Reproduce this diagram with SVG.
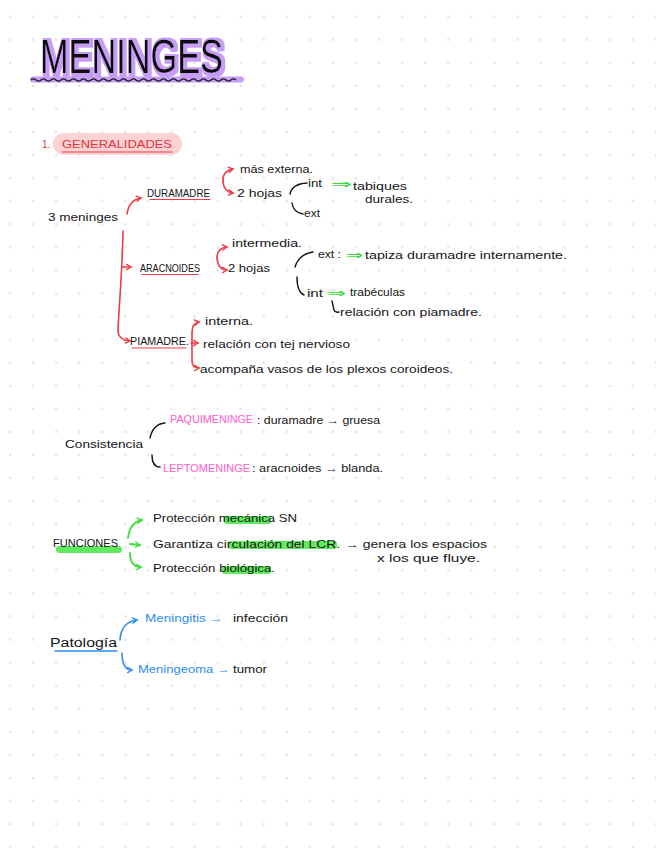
<svg xmlns="http://www.w3.org/2000/svg" width="656" height="848" viewBox="0 0 656 848">
<defs>
<pattern id="dots" patternUnits="userSpaceOnUse" x="-1.5" y="5.2" width="23.07" height="23.07">
<circle cx="11.5" cy="11.5" r="1.3" fill="#e3e3e3"/>
</pattern>
<filter id="glow" x="-10%" y="-20%" width="120%" height="140%">
<feMorphology in="SourceAlpha" operator="dilate" radius="1.8" result="d"/>
<feOffset in="d" dx="2" dy="1" result="o"/>
<feFlood flood-color="#c79df7"/>
<feComposite in2="o" operator="in" result="p"/>
<feMerge><feMergeNode in="p"/><feMergeNode in="SourceGraphic"/></feMerge>
</filter>
<marker id="ar" viewBox="0 0 8 8" refX="6" refY="4" markerWidth="7" markerHeight="7" markerUnits="userSpaceOnUse" orient="auto"><path d="M1,1 L6,4 L1,7" fill="none" stroke="#ee3b44" stroke-width="1.6" stroke-linecap="round"/></marker>
<marker id="ag" viewBox="0 0 8 8" refX="6" refY="4" markerWidth="7" markerHeight="7" markerUnits="userSpaceOnUse" orient="auto"><path d="M1,1 L6,4 L1,7" fill="none" stroke="#3be03b" stroke-width="1.6" stroke-linecap="round"/></marker>
<marker id="ab" viewBox="0 0 8 8" refX="6" refY="4" markerWidth="7" markerHeight="7" markerUnits="userSpaceOnUse" orient="auto"><path d="M1,1 L6,4 L1,7" fill="none" stroke="#2d8cf0" stroke-width="1.6" stroke-linecap="round"/></marker>
</defs>
<style>
text{font-family:"Liberation Sans","DejaVu Sans",sans-serif;font-size:10.5px;fill:#151515}
.sc{font-size:10.5px}
.red{fill:#e8323c}
.pink{fill:#ff5ccb}
.blue{fill:#2d8cf0}
.grn{fill:#35e035;font-weight:bold}
.cr{fill:none;stroke:#ee3b44;stroke-width:1.6;stroke-linecap:round}
.cg{fill:none;stroke:#3be03b;stroke-width:1.8;stroke-linecap:round}
.cb{fill:none;stroke:#2d8cf0;stroke-width:1.6;stroke-linecap:round}
.ck{fill:none;stroke:#151515;stroke-width:1.4;stroke-linecap:round}
.ul{stroke:#ee3b44;stroke-width:1.2;stroke-linecap:round}
.hl{fill:#5fea5f}
</style>
<rect width="656" height="848" fill="#ffffff"/>
<rect width="656" height="848" fill="url(#dots)"/>

<g id="title">
<line x1="33" y1="79.5" x2="241" y2="79.5" stroke="#c79df7" stroke-width="6" stroke-linecap="round"/>
<path d="M31,80 q2.5,-2.2 5,0 t5,0 t5,0 t5,0 t5,0 t5,0 t5,0 t5,0 t5,0 t5,0 t5,0 t5,0 t5,0 t5,0 t5,0 t5,0 t5,0 t5,0 t5,0 t5,0 t5,0 t5,0 t5,0 t5,0 t5,0 t5,0 t5,0 t5,0 t5,0 t5,0 t5,0 t5,0 t5,0 t5,0 t5,0 t5,0 t5,0 t5,0 t5,0 t5,0 t5,0" fill="none" stroke="#1a1a1a" stroke-width="1.3"/>
<text transform="translate(40,73) scale(1,1.42)" x="0" y="0" textLength="183" lengthAdjust="spacingAndGlyphs" filter="url(#glow)" style="font-size:34px;fill:#111">MENINGES</text>
</g>

<g id="generalidades">
<rect x="53" y="133" width="129" height="22" rx="11" fill="#fcd2d2"/>
<line x1="62" y1="152" x2="172" y2="152" class="ul"/>
<text x="42" y="148" class="red" style="font-size:10px">1.</text>
<text x="62" y="148" textLength="110" lengthAdjust="spacingAndGlyphs" class="red" style="font-size:11px">GENERALIDADES</text>
</g>

<g id="connectors">
<path class="cr" d="M127,214 Q129,200 141,198" marker-end="url(#ar)"/>
<path class="cr" d="M123,231 C122,280 118,318 118,332 Q119,340 130,341" marker-end="url(#ar)"/>
<path class="cr" d="M122,267 L131,267" marker-end="url(#ar)"/>
<path class="cr" d="M223,182 Q222,171 233,169" marker-end="url(#ar)"/>
<path class="cr" d="M223,182 Q224,192 233,193" marker-end="url(#ar)"/>
<path class="ck" d="M290,194 Q292,184 307,183"/>
<path class="ck" d="M292,203 Q293,212 303,214"/>
<path class="cr" d="M217,258 Q217,248 227,247" marker-end="url(#ar)"/>
<path class="cr" d="M217,258 Q218,270 227,270" marker-end="url(#ar)"/>
<path class="ck" d="M295,267 Q299,254 313,252"/>
<path class="ck" d="M297,277 Q297,292 304,295"/>
<path class="ck" d="M332,301 L334,310 Q335,313 339,312"/>
<path class="cr" d="M192,333 Q192,323 199,322" marker-end="url(#ar)"/>
<path class="cr" d="M192,333 L192,361 Q192,368 199,368" marker-end="url(#ar)"/>
<path class="cr" d="M191,343 L198,343" marker-end="url(#ar)"/>
<path class="ck" d="M150,438 Q153,424 165,423"/>
<path class="ck" d="M152,455 Q152,467 160,467"/>
<path class="cg" d="M128,538 Q130,522 142,520" marker-end="url(#ag)"/>
<path class="cg" d="M130,544 L140,545" marker-end="url(#ag)"/>
<path class="cg" d="M130,553 Q130,567 141,567" marker-end="url(#ag)"/>
<path class="cb" d="M120,640 Q121,622 137,620" marker-end="url(#ab)"/>
<path class="cb" d="M122,653 Q122,670 132,670" marker-end="url(#ab)"/>
</g>

<g id="tres-meninges">
<text x="48" y="221" textLength="70" lengthAdjust="spacingAndGlyphs">3 meninges</text>
</g>

<g id="duramadre">
<line x1="150" y1="199.5" x2="210" y2="199.5" class="ul"/>
<text x="147" y="197" textLength="63" lengthAdjust="spacingAndGlyphs" class="sc">DURAMADRE</text>
</g>
<g id="dura-externa"><text x="240" y="173" textLength="73" lengthAdjust="spacingAndGlyphs">más externa.</text></g>
<g id="dura-hojas"><text x="237" y="197" textLength="45" lengthAdjust="spacingAndGlyphs">2 hojas</text></g>
<g id="dura-int">
<text x="308" y="187" textLength="14" lengthAdjust="spacingAndGlyphs">int</text>
<text x="331" y="188" textLength="21" lengthAdjust="spacingAndGlyphs" class="grn" style="font-size:12px">⇒</text>
<text x="353" y="190" textLength="54" lengthAdjust="spacingAndGlyphs">tabiques</text>
<text x="365" y="203" textLength="48" lengthAdjust="spacingAndGlyphs">durales.</text>
</g>
<g id="dura-ext"><text x="304" y="217" textLength="16" lengthAdjust="spacingAndGlyphs">ext</text></g>

<g id="aracnoides">
<line x1="142" y1="274.5" x2="198" y2="274.5" class="ul"/>
<text x="140" y="272" textLength="60" lengthAdjust="spacingAndGlyphs" class="sc">ARACNOIDES</text>
</g>
<g id="arac-intermedia"><text x="232" y="247" textLength="70" lengthAdjust="spacingAndGlyphs">intermedia.</text></g>
<g id="arac-hojas"><text x="228" y="272" textLength="42" lengthAdjust="spacingAndGlyphs">2 hojas</text></g>
<g id="arac-ext">
<text x="318" y="258" textLength="23" lengthAdjust="spacingAndGlyphs">ext :</text>
<text x="346" y="259" textLength="17" lengthAdjust="spacingAndGlyphs" class="grn" style="font-size:12px">⇒</text>
<text x="365" y="259" textLength="202" lengthAdjust="spacingAndGlyphs">tapiza duramadre internamente.</text>
</g>
<g id="arac-int">
<text x="307" y="297" textLength="16" lengthAdjust="spacingAndGlyphs">int</text>
<text x="327" y="297" textLength="19" lengthAdjust="spacingAndGlyphs" class="grn" style="font-size:12px">⇒</text>
<text x="350" y="296" textLength="55" lengthAdjust="spacingAndGlyphs" style="font-size:11px">trabéculas</text>
<text x="340" y="316" textLength="142" lengthAdjust="spacingAndGlyphs">relación con piamadre.</text>
</g>

<g id="piamadre">
<line x1="132" y1="348" x2="186" y2="348" class="ul"/>
<text x="130" y="345" textLength="59" lengthAdjust="spacingAndGlyphs" class="sc">PIAMADRE.</text>
</g>
<g id="pia-interna"><text x="205" y="325" textLength="48" lengthAdjust="spacingAndGlyphs">interna.</text></g>
<g id="pia-relacion"><text x="203" y="348" textLength="147" lengthAdjust="spacingAndGlyphs">relación con tej nervioso</text></g>
<g id="pia-acompana"><text x="200" y="373" textLength="253" lengthAdjust="spacingAndGlyphs">acompaña vasos de los plexos coroideos.</text></g>

<g id="consistencia"><text x="65" y="448" textLength="78" lengthAdjust="spacingAndGlyphs" style="font-size:11.5px">Consistencia</text></g>
<g id="paquimeninge">
<text x="170" y="423" textLength="83" lengthAdjust="spacingAndGlyphs" class="pink sc">PAQUIMENINGE</text>
<text x="257" y="424" textLength="123" lengthAdjust="spacingAndGlyphs">: duramadre → gruesa</text>
</g>
<g id="leptomeninge">
<text x="163" y="472" textLength="87" lengthAdjust="spacingAndGlyphs" class="pink sc">LEPTOMENINGE</text>
<text x="252" y="472" textLength="131" lengthAdjust="spacingAndGlyphs">: aracnoides → blanda.</text>
</g>

<g id="funciones">
<rect x="56" y="546" width="66" height="7" rx="3.5" class="hl"/>
<text x="53" y="547" textLength="65" lengthAdjust="spacingAndGlyphs" class="sc">FUNCIONES</text>
</g>
<g id="fun-mecanica">
<rect x="224" y="516" width="47" height="8" rx="3" class="hl"/>
<text x="153" y="522" textLength="144" lengthAdjust="spacingAndGlyphs">Protección mecánica SN</text>
</g>
<g id="fun-lcr">
<rect x="228" y="541" width="109" height="8" rx="3" class="hl"/>
<text x="153" y="548" textLength="187" lengthAdjust="spacingAndGlyphs">Garantiza circulación del LCR.</text>
<text x="345" y="548" textLength="142" lengthAdjust="spacingAndGlyphs">→ genera los espacios</text>
<text x="377" y="562" textLength="103" lengthAdjust="spacingAndGlyphs">x los que fluye.</text>
</g>
<g id="fun-biologica">
<rect x="222" y="566" width="49" height="8" rx="3" class="hl"/>
<text x="153" y="572" textLength="122" lengthAdjust="spacingAndGlyphs">Protección biológica.</text>
</g>

<g id="patologia">
<line x1="55" y1="651" x2="117" y2="651" stroke="#2d8cf0" stroke-width="1.4" stroke-linecap="round"/>
<text x="50" y="647" textLength="67" lengthAdjust="spacingAndGlyphs" style="font-size:12px">Patología</text>
</g>
<g id="meningitis">
<text x="145" y="622" textLength="78" lengthAdjust="spacingAndGlyphs" class="blue">Meningitis →</text>
<text x="233" y="622" textLength="55" lengthAdjust="spacingAndGlyphs">infección</text>
</g>
<g id="meningeoma">
<text x="138" y="673" textLength="92" lengthAdjust="spacingAndGlyphs" class="blue">Meningeoma →</text>
<text x="233" y="673" textLength="34" lengthAdjust="spacingAndGlyphs">tumor</text>
</g>
</svg>
